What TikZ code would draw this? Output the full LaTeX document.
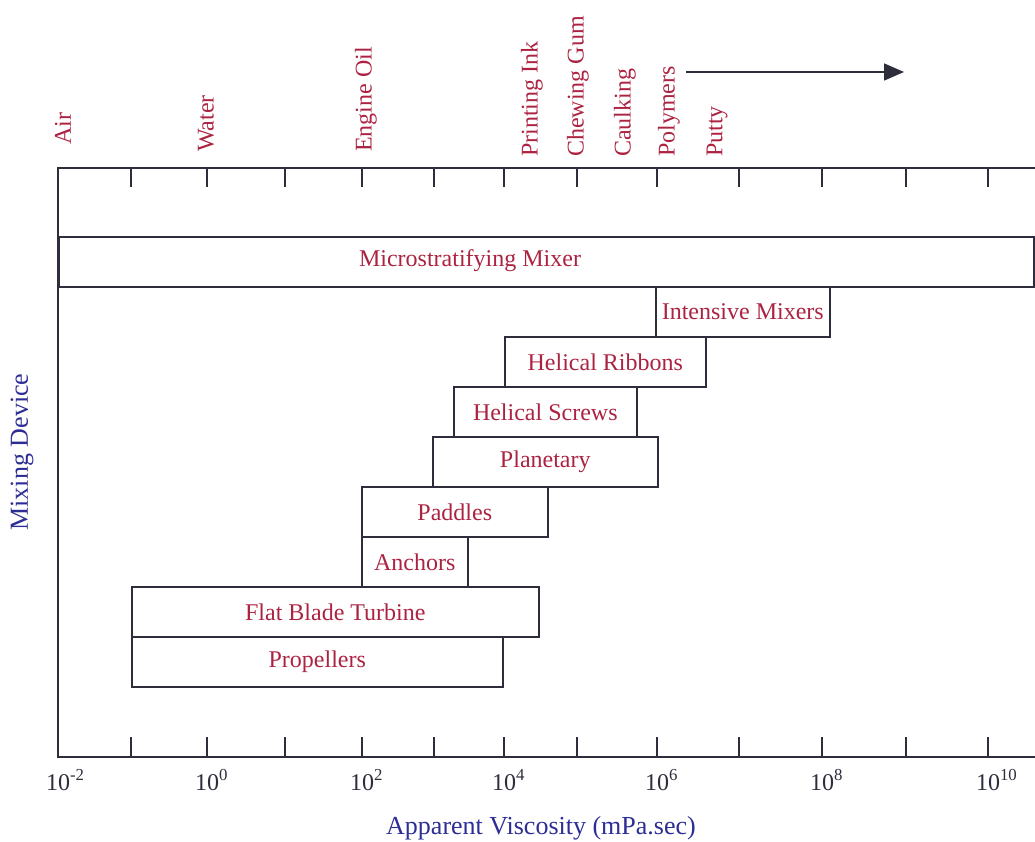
\documentclass[tikz,border=0pt]{standalone}
\usepackage{fontspec}
\setmainfont{Liberation Serif}
\usetikzlibrary{arrows.meta}
\definecolor{devicered}{RGB}{172,35,65}
\definecolor{axisblue}{RGB}{45,45,150}
\definecolor{framegray}{RGB}{45,45,60}
\tikzset{
% Two node styles for the chart: device boxes and the fluids above the axis
device box/.style={rectangle,draw=framegray,line width=1.6pt,anchor=north west,minimum height=50pt,inner sep=2pt,text=devicered,font=\fontsize{24}{28}\selectfont},
fluid label/.style={rotate=90,anchor=west,inner sep=2pt,text=devicered,font=\fontsize{24}{28}\selectfont}
}

\begin{document}
\begin{tikzpicture}[x=1pt,y=-1pt]
\useasboundingbox (0,0) rectangle (1035,842);
\tikzstyle{axis line}=[framegray,line width=1.6pt]
\tikzstyle{tick label}=[anchor=base,text=framegray,font=\fontsize{24}{28}\selectfont]
\tikzstyle{axis title}=[text=axisblue,font=\fontsize{26}{30}\selectfont]
% The frame with its ticks
\draw[axis line] (1035,168) -- (58,168) -- (58,757) -- (1035,757);
\foreach \x in {131,207,285,362,434,504,577,657,739,822,906,988}{
\draw[axis line] (\x,168) -- (\x,187);
\draw[axis line] (\x,737) -- (\x,757);
}
\foreach \x/\e [count=\i] in {58/-2,207/0,362/2,504/4,657/6,822/8,988/10}
\node[tick label] (power\i) at (\x,790) {10\rlap{\textsuperscript{\e}}};
% The fluids
\node[fluid label] (air) at (63,147) {Air};
\node[fluid label] (water) at (206,154) {Water};
\node[fluid label] (engine oil) at (366,154) {Engine Oil};
\node[fluid label] (printing ink) at (532,159) {Printing Ink};
\node[fluid label] (chewing gum) at (578,159) {Chewing Gum};
\node[fluid label] (caulking) at (625,159) {Caulking};
\node[fluid label] (polymers) at (669,159) {Polymers};
\node[fluid label] (putty) at (717,159) {Putty};
\coordinate (trend start) at (686,72);
\coordinate (trend end) at (904,72);
\draw[axis line,-{Triangle[length=20pt,width=17pt]}] (trend start) -- (trend end);
% The devices
\node[device box,minimum width=975pt] (micro) at (58,236) {};
\node[text=devicered,font=\fontsize{24}{28}\selectfont] (micro text) at (470,261) {Microstratifying Mixer};
\node[device box,minimum width=174pt] (intensive) at (655,286) {Intensive Mixers};
\node[device box,minimum width=201pt] (ribbons) at (504,336) {Helical Ribbons};
\node[device box,minimum width=183pt] (screws) at (453,386) {Helical Screws};
\node[device box,minimum width=225pt] (planetary) at (432,436) {Planetary};
\node[device box,minimum width=186pt] (paddles) at (361,486) {Paddles};
\node[device box,minimum width=106pt] (anchors) at (361,536) {Anchors};
\node[device box,minimum width=407pt] (turbine) at (131,586) {Flat Blade Turbine};
\node[device box,minimum width=371pt] (propellers) at (131,636) {Propellers};
% Axis titles
\node[axis title] (viscosity) at (541,828) {Apparent Viscosity (mPa.sec)};
\node[axis title,rotate=90] (device) at (22,452) {Mixing Device};
\end{tikzpicture}
\end{document}
